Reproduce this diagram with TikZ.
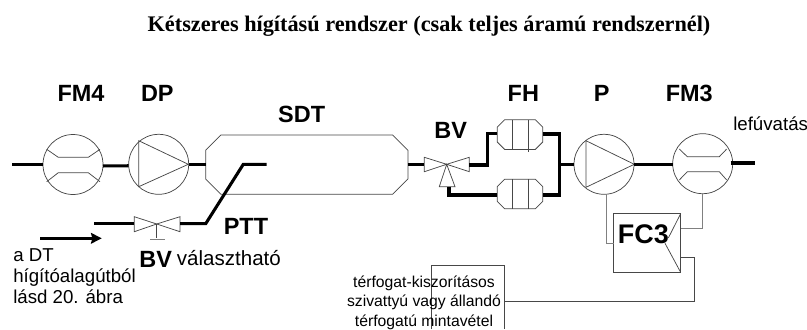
\documentclass[tikz,border=0pt]{standalone}
\usepackage{fontspec}
\setmainfont{Liberation Sans}
\newfontfamily\titlefont{Liberation Serif}
\usetikzlibrary{arrows.meta}
\newcommand{\octagon}[2]{\draw[thin line] ([xshift=#2]#1.north west)--([xshift=-#2]#1.north east)--([yshift=-#2]#1.north east)--([yshift=#2]#1.south east)--([xshift=-#2]#1.south east)--([xshift=#2]#1.south west)--([yshift=#2]#1.south west)--([yshift=-#2]#1.north west)--cycle;}
\tikzset{
 x=0.75pt,y=-0.75pt,
 thin line/.style={line width=0.55pt,draw=black!72},
 gray line/.style={line width=0.7pt,draw=black!50},
 pipe/.style={line width=2.3pt,draw=black,line join=miter},
 instr/.style={circle,thin line,minimum size=45pt,inner sep=0pt,outer sep=0pt},
 tube/.style={rectangle,inner sep=0pt,outer sep=0pt},
 sdtbox/.style={tube,minimum width=151.7pt,minimum height=44.5pt},
 fhbox/.style={tube,minimum width=34pt,minimum height=22.2pt},
 tag/.style={font=\bfseries\fontsize{17.6}{17.6}\selectfont,inner sep=0pt},
 note/.style={font=\fontsize{14}{15}\selectfont,inner sep=0pt},
 small note/.style={font=\fontsize{11.8}{14.6}\selectfont,inner sep=0pt,align=center},
}
\begin{document}
\begin{tikzpicture}
\useasboundingbox (0,0) rectangle (807,329);
\node[font=\titlefont\bfseries\fontsize{16.7}{18}\selectfont,inner sep=0pt] (title) at (429,26) {Kétszeres hígítású rendszer (csak teljes áramú rendszernél)};
% instruments
\node[instr] (fmfour) at (73,164.5) {};
\node[instr] (dp) at (158.7,164.3) {};
\node[instr] (p) at (604,164.3) {};
\node[instr] (fmthree) at (702.7,163.7) {};
\node[sdtbox] (sdt) at (306.8,164.6) {};
\node[fhbox] (fhu) at (520,134.6) {};
\node[fhbox] (fhl) at (520,194) {};
\octagon{sdt}{11.5pt}
\octagon{fhu}{5.5pt}
\octagon{fhl}{5.5pt}
\node[rectangle,thin line,minimum width=50.2pt,minimum height=44pt,inner sep=0pt,outer sep=0pt] (fc) at (647.2,243) {};
% hourglass, pump triangles
\draw[thin line] (46.7,149.3)--(58.3,157.3)--(88.3,157.3)--(100,149.3);
\draw[thin line] (46.7,181.7)--(58.3,172.7)--(88.3,172.7)--(100,181.7);
\draw[thin line] (679.3,149)--(687.3,156.7)--(719.3,156.7)--(726.7,149);
\draw[thin line] (679.3,180)--(687.3,171.7)--(719.3,171.7)--(726.7,180);
\draw[thin line] (138.7,140.7)--(138.7,186.7)--(188.3,164.3)--cycle;
\draw[thin line] (586,140.7)--(586,187.3)--(634.3,164.3)--cycle;
% filter bars
\draw[thin line] (512.3,120)--(512.3,149.3) (528,120)--(528,151.5);
\draw[thin line] (512.3,179)--(512.3,209) (528,179)--(528,209);
% valves
\coordinate (bva) at (156.7,224);
\draw[thin line] (bva)--(134.3,216.7)--(134.3,231.7)--cycle;
\draw[thin line] (bva)--(180,216.7)--(180,231.7)--cycle;
\draw[thin line] (bva)--(156.7,238.3);
\draw[gray line] (150,239)--(165,239);
\coordinate (bvb) at (446.7,164.3);
\draw[thin line] (bvb)--(424.3,157.3)--(424.3,171.7)--cycle;
\draw[thin line] (bvb)--(469.3,157.3)--(469.3,171.7)--cycle;
\draw[thin line] (bvb)--(439.3,186.7)--(455,186.7)--cycle;
% pipes
\coordinate (inl) at (12,164.3);
\coordinate (out) at (755,163);
\draw[pipe] (inl)--(fmfour.west|-inl);
\draw[pipe] ([yshift=-1.1pt]fmfour.east)--([yshift=-1.1pt]dp.west);
\draw[pipe] (dp.east)--(sdt.west|-dp.east);
\draw[pipe] (94.3,223.7)--(134.3,223.7);
\draw[pipe] (180,223.7)--(205.7,223.7)--(243.3,164.3)--(266.7,164.3);
\draw[pipe] (sdt.east|-bvb)--(424.3,164.3);
\draw[pipe] (469.3,165)--(487.3,165)--(487.3,133.3)--(fhu.west|-0,133.3);
\draw[pipe] (449,186.7)--(449,195)--(fhl.west|-0,195);
\draw[pipe] (fhu.east|-0,134)--(559.3,134)--(559.3,195)--(fhl.east|-0,195);
\draw[pipe] (559.3,164.3)--(p.west);
\draw[pipe] (p.east)--(fmthree.west|-p.east);
\draw[pipe] (730.7,163)--(out);
\draw[-{Stealth[length=8pt,width=8pt,inset=1pt]},line width=1.8pt] (40,238.3)--(101.7,238.3);
% signal lines
\draw[gray line] (606.7,194)--(606.7,243.3)--(fc.west|-0,243.3);
\draw[gray line] (fmthree.south)--(702.7,228.3)--(fc.east|-0,228.3);
\draw[thin line] (fc.north east)--(668.3,238);
\draw[thin line] (665,243.3)--(fc.south east);
% sampling box
\coordinate (sbl) at (431.7,329);
\coordinate (sbr) at (504.7,329);
\draw[thin line] (sbl)--(431.7,265.3)--(504.7,265.3)--(sbr);
\draw[thin line] (fc.east|-0,257.7)--(694.7,257.7)--(694.7,301)--(504.7,301);
% labels
\node[tag] (lfm4) at (81,93.3) {FM4};
\node[tag] (ldp) at (157.3,93.3) {DP};
\node[tag] (lsdt) at (301.7,114.3) {SDT};
\node[tag] (lptt) at (246,226.7) {PTT};
\node[tag] (lbva) at (155.7,259.3) {BV};
\node[note,font=\fontsize{15.4}{16}\selectfont,anchor=base west] (lval) at (176.7,265) {választható};
\node[tag] (lbvb) at (450.7,130.7) {BV};
\node[tag] (lfh) at (523.3,93.3) {FH};
\node[tag] (lp) at (601.7,93.3) {P};
\node[tag] (lfm3) at (689.3,93.3) {FM3};
\node[note,anchor=base west] (lout) at (733,130.7) {lefúvatás};
\node[tag,font=\bfseries\fontsize{20.2}{20}\selectfont] (lfc) at (643.3,234) {FC3};
\node[note,anchor=base west] (la) at (13,261.5) {a DT};
\node[note,anchor=base west] (lb) at (13,282.3) {hígítóalagútból};
\node[note,anchor=base west] (lc) at (13,303.3) {lásd 20. ábra};
\node[small note] (ls) at (424,302.5) {térfogat-kiszorításos\\szivattyú vagy állandó\\térfogatú mintavétel};
\end{tikzpicture}
\end{document}
